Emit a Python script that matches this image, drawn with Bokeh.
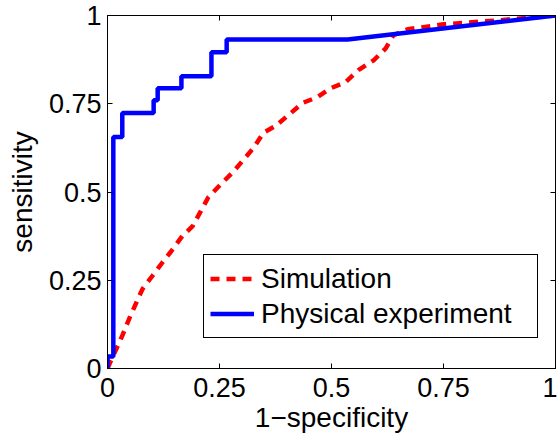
from bokeh.plotting import figure
from bokeh.models import FixedTicker, LinearAxis, Legend, LegendItem, Range1d, CustomLabelingPolicy
from bokeh.embed import file_html
from bokeh.resources import INLINE

# Simulation ROC curve (1-specificity, sensitivity)
sim_fpr = [0.0, 0.007, 0.033, 0.051, 0.078, 0.100, 0.123, 0.141, 0.167, 0.190,
           0.208, 0.225, 0.252, 0.279, 0.304, 0.326, 0.348, 0.375, 0.404, 0.435,
           0.469, 0.498, 0.531, 0.560, 0.594, 0.621, 0.638, 0.670, 0.750, 0.870, 1.0]
sim_tpr = [0.0, 0.020, 0.093, 0.149, 0.225, 0.262, 0.301, 0.330, 0.375, 0.403,
           0.445, 0.485, 0.521, 0.555, 0.592, 0.625, 0.668, 0.687, 0.718, 0.752,
           0.769, 0.794, 0.811, 0.845, 0.873, 0.907, 0.944, 0.961, 0.975, 0.986, 1.0]

# Physical experiment ROC curve (step)
phy_fpr = [0.0, 0.0, 0.013, 0.013, 0.033, 0.033, 0.103, 0.103, 0.112, 0.112,
           0.165, 0.165, 0.232, 0.232, 0.266, 0.266, 0.536, 1.0]
phy_tpr = [0.0, 0.034, 0.034, 0.656, 0.656, 0.724, 0.724, 0.760, 0.760, 0.794,
           0.794, 0.828, 0.828, 0.896, 0.896, 0.932, 0.932, 1.0]

ticks = [0, 0.25, 0.5, 0.75, 1]
tick_labels = {0: "0", 0.25: "0.25", 0.5: "0.5", 0.75: "0.75", 1: "1"}

FONT = "Liberation Sans"
TICK_FS = "27px"
LABEL_FS = "28px"

p = figure(width=557, height=435, output_backend="svg", toolbar_location=None,
           x_range=Range1d(0, 1), y_range=Range1d(0, 1),
           min_border_left=107, min_border_right=2, min_border_top=15, min_border_bottom=65)
p.grid.visible = False
p.outline_line_color = "black"
p.outline_line_width = 1
p.outline_line_alpha = 1
p.background_fill_color = "white"

r_sim = p.line(sim_fpr, sim_tpr, line_color="red", line_width=4.5, line_dash="9 7")
r_phy = p.line(phy_fpr, phy_tpr, line_color="#0000ff", line_width=4.5)

for ax in (p.xaxis[0], p.yaxis[0]):
    ax.ticker = FixedTicker(ticks=ticks)
    ax.major_label_overrides = tick_labels
    ax.major_tick_in = 5
    ax.major_tick_out = 0
    ax.minor_tick_in = 0
    ax.minor_tick_out = 0
    ax.axis_line_color = "black"
    ax.major_tick_line_color = "black"
    ax.major_label_text_font = FONT
    ax.major_label_text_font_size = TICK_FS
    ax.major_label_text_color = "black"
    ax.axis_label_text_font = FONT
    ax.axis_label_text_font_size = LABEL_FS
    ax.axis_label_text_font_style = "normal"
    ax.axis_label_text_color = "black"

p.xaxis[0].axis_label = "1\u2212specificity"
p.yaxis[0].axis_label = "sensitivity"
p.xaxis[0].major_label_standoff = 9
p.yaxis[0].major_label_standoff = 6
p.xaxis[0].axis_label_standoff = 2
p.yaxis[0].axis_label_standoff = 8

hide_all = CustomLabelingPolicy(code="""
    for (const i of indices) { indices.unset(i) }
    return indices
""")
for loc in ("above", "right"):
    a = LinearAxis(ticker=FixedTicker(ticks=ticks), major_label_text_font_size="0px",
                   major_label_policy=hide_all,
                   major_tick_in=5, major_tick_out=0, minor_tick_in=0, minor_tick_out=0,
                   axis_line_color="black", major_tick_line_color="black",
                   major_label_standoff=0)
    p.add_layout(a, loc)

legend = Legend(items=[LegendItem(label="Simulation", renderers=[r_sim]),
                       LegendItem(label="Physical experiment", renderers=[r_phy])],
                location=(96, 30))
legend.label_text_font = FONT
legend.label_text_font_size = LABEL_FS
legend.label_text_color = "black"
legend.border_line_color = "black"
legend.border_line_alpha = 1
legend.border_line_width = 1
legend.background_fill_color = "white"
legend.background_fill_alpha = 1
legend.padding = 6
legend.spacing = 0
legend.margin = 0
legend.glyph_width = 44
legend.label_standoff = 7
legend.label_width = 270
legend.label_height = 35
legend.glyph_height = 35
p.add_layout(legend, "center")

open("out.html", "w").write(file_html(p, INLINE))
